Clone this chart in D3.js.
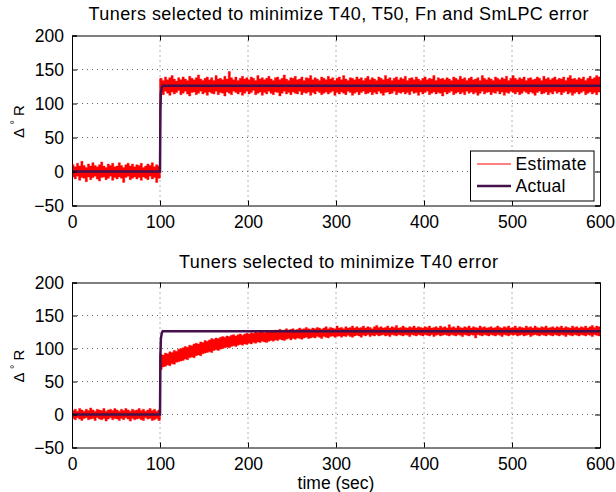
<!DOCTYPE html>
<html>
<head>
<meta charset="utf-8">
<script src="https://cdn.jsdelivr.net/npm/d3@7"></script>
<style>
  body { margin: 0; background: #fff; }
  text { font-family: "Liberation Sans", Arial, Helvetica, sans-serif; fill: #000; }
</style>
</head>
<body>
<svg id="chart" width="616" height="492"></svg>
<script>
// ---------------- data ----------------
const xTicks = [0, 100, 200, 300, 400, 500, 600];
const yTicks = [-50, 0, 50, 100, 150, 200];
const titles = ["Tuners selected to minimize T40, T50, Fn and SmLPC error",
                "Tuners selected to minimize T40 error"];
const legendLabels = ["Estimate", "Actual"];

// estimate: upper / lower envelope of the noisy trace, read every 2.5 s (0 .. 600)
const sampleTimes = d3.range(0, 600.1, 2.5);

const topUpper = [
  // 0 - 97.5
  10, 7, 12, 8, 15, 9, 6, 11, 8, 13,
  9, 7, 10, 14, 8, 6, 11, 9, 12, 7,
  8, 13, 9, 6, 10, 12, 8, 11, 7, 10,
  9, 12, 6, 8, 11, 9, 13, 7, 10, 8,
  // 100 - 600
  137,134,139,135,138,141,136,133,138,135,
  139,136,134,140,137,135,138,142,136,134,
  137,139,135,138,134,141,136,137,135,140,
  136,147,138,135,139,134,137,140,136,138,
  135,139,137,134,141,136,138,135,137,140,
  136,134,138,139,135,137,142,136,134,138,
  137,140,135,136,139,134,138,137,141,135,
  138,136,134,139,137,135,140,136,138,134,
  137,139,135,141,136,134,138,137,135,139,
  136,138,134,137,140,135,138,136,134,139,
  137,135,141,136,138,134,137,139,135,138,
  136,140,134,137,138,135,139,136,134,137,
  139,135,137,136,141,134,138,136,137,135,
  138,136,134,139,137,135,140,136,138,134,
  137,139,135,136,138,134,141,137,135,138,
  136,134,139,137,135,138,136,140,134,137,
  141,137,135,138,136,139,134,137,138,135,
  136,139,137,134,140,136,138,135,137,139,
  135,137,136,139,134,138,141,136,137,135,
  138,136,139,134,137,140,136,138,141,139,
  140];
const topLower = [
  -8, -11, -7, -13, -9, -10, -15, -8, -12, -9,
  -7, -11, -14, -9, -8, -12, -10, -7, -13, -9,
  -11, -8, -10, -16, -9, -7, -12, -10, -8, -11,
  -9, -13, -8, -10, -12, -7, -11, -9, -16, -10,
  116,113,118,115,112,117,114,116,119,113,
  115,118,114,111,116,117,113,115,118,114,
  116,112,117,115,114,118,113,116,115,111,
  117,115,113,118,116,114,117,112,115,118,
  114,116,119,113,115,117,112,116,114,118,
  115,113,117,116,111,115,118,114,116,113,
  117,115,114,118,113,116,115,117,112,116,
  114,118,116,113,115,117,114,116,118,112,
  116,114,117,115,113,118,116,112,115,117,
  113,116,118,114,115,117,113,116,114,118,
  115,112,116,117,114,115,118,113,116,115,
  117,114,116,113,118,115,116,112,117,114,
  116,118,113,115,117,114,116,115,111,117,
  114,116,118,113,115,117,114,116,113,118,
  115,117,114,116,112,115,118,114,116,117,
  113,116,115,118,114,117,112,116,115,118,
  116,114,117,113,115,118,116,114,117,115,
  112,116,118,114,115,117,113,116,114,118,
  115,117,113,116,118,114,116,112,115,117,
  114,116,118,113,115,117,114,116,113,117,
  116];

const botUpper = [
  6, 8, 5, 9, 7, 5, 8, 6, 10, 7,
  5, 8, 7, 6, 9, 5, 7, 8, 6, 9,
  7, 5, 8, 6, 9, 7, 5, 8, 6, 7,
  9, 6, 8, 5, 7, 9, 6, 8, 5, 7,
  91, 90, 93, 92, 95, 94, 97, 96, 99,100,
  101,103,102,105,104,107,108,107,110,109,
  112,111,113,115,114,116,115,117,118,117,
  119,118,120,121,119,121,122,120,122,123,
  122,124,123,125,124,126,125,124,127,126,
  127,126,128,127,129,127,128,130,128,129,
  130,128,129,131,129,130,132,130,129,131,
  130,132,131,129,131,133,130,132,131,130,
  134,131,132,130,133,131,132,134,131,133,
  131,132,134,131,133,132,130,133,135,132,
  133,131,132,134,131,133,132,135,131,132,
  134,132,131,133,132,134,131,133,132,131,
  133,132,134,131,132,133,131,134,132,133,
  131,136,132,133,131,134,132,131,133,132,
  134,131,133,132,131,134,132,133,131,132,
  133,131,132,134,132,131,133,132,134,131,
  132,134,131,133,132,131,134,132,133,131,
  134,132,131,133,132,134,131,132,133,131,
  133,132,134,131,133,132,131,134,132,133,
  131,133,132,134,131,133,135,132,134,133,
  133];
const botLower = [
  -6, -8, -5, -7, -9, -6, -5, -8, -7, -6,
  -9, -5, -7, -8, -6, -10, -7, -5, -8, -6,
  -7, -9, -6, -8, -5, -7, -10, -6, -8, -7,
  -6, -8, -9, -5, -7, -6, -9, -8, -6, -9,
  68, 72, 73, 75, 74, 77, 76, 79, 80, 81,
  82, 84, 83, 86, 87, 86, 89, 90, 89, 92,
  93, 94, 95, 94, 97, 98, 97, 99,100,101,
  102,101,103,104,103,105,106,105,107,106,
  108,107,109,108,110,109,111,110,109,111,
  112,111,113,112,114,113,112,114,115,113,
  115,114,116,115,114,116,117,115,116,117,
  116,118,117,115,118,117,116,118,119,117,
  118,119,117,119,118,120,118,117,119,120,
  119,117,120,119,121,118,120,119,121,119,
  120,121,119,120,118,121,120,119,121,120,
  119,121,120,118,121,120,119,121,120,119,
  121,120,119,121,118,120,121,119,120,121,
  120,119,121,120,119,121,120,118,121,120,
  119,121,120,116,121,120,119,121,120,119,
  121,120,119,121,120,118,121,120,119,121,
  120,121,119,120,121,119,120,121,118,120,
  121,120,119,121,120,119,121,120,119,121,
  120,119,121,120,118,121,120,119,121,120,
  119,121,120,119,121,120,118,121,120,119,
  120];

// actual (commanded) step
const actualTimes = [0, 100, 100.5, 101, 102, 103, 600];
const actualValues = [0, 0, 90, 115, 123, 126, 126];

// ---------------- drawing ----------------
const svg = d3.select("#chart");
svg.append("rect").attr("width", 616).attr("height", 492).attr("fill", "#fff");

const RED = "#ff0000", PURPLE = "#45104c";
const panels = [
  {top: 35.5, bottom: 205.5, upper: topUpper, lower: topLower,
   title: titles[0], titleY: 20, titleW: 500, legend: true, xlabel: false},
  {top: 282.5, bottom: 447.5, upper: botUpper, lower: botLower,
   title: titles[1], titleY: 268, titleW: 319, legend: false, xlabel: true}
];
const left = 72, right = 600;

panels.forEach((p, i) => {
  const x = d3.scaleLinear().domain([0, 600]).range([left, right]);
  const y = d3.scaleLinear().domain([-50, 200]).range([p.bottom, p.top]);
  const g = svg.append("g");
  const clipId = "clip" + i;
  svg.append("clipPath").attr("id", clipId).append("rect")
    .attr("x", left).attr("y", p.top).attr("width", right - left).attr("height", p.bottom - p.top);

  // grid
  const grid = g.append("g").attr("stroke", "#666").attr("stroke-width", 1).attr("stroke-dasharray", "1,4");
  xTicks.slice(1, -1).forEach(t => grid.append("line")
    .attr("x1", x(t)).attr("x2", x(t)).attr("y1", p.top).attr("y2", p.bottom));
  yTicks.slice(1, -1).forEach(t => grid.append("line")
    .attr("x1", left).attr("x2", right).attr("y1", y(t)).attr("y2", y(t)));

  // estimate
  const est = sampleTimes.map((t, k) => ({t, hi: p.upper[k], lo: p.lower[k]}));
  const area = d3.area().x(d => x(d.t)).y0(d => y(d.lo)).y1(d => y(d.hi)).curve(d3.curveStepAfter);
  g.append("path").datum(est).attr("clip-path", `url(#${clipId})`)
    .attr("d", area).attr("fill", RED).attr("stroke", RED).attr("stroke-width", 0.4);
  // vertical jump of the estimate at the step
  const k0 = sampleTimes.indexOf(100);
  g.append("line").attr("x1", x(100)).attr("x2", x(100))
    .attr("y1", y(p.lower[k0 - 1])).attr("y2", y(p.upper[k0]))
    .attr("stroke", RED).attr("stroke-width", 1.2);
  // actual
  const act = actualTimes.map((t, k) => ({t, v: actualValues[k]}));
  g.append("path").datum(act).attr("clip-path", `url(#${clipId})`)
    .attr("d", d3.line().x(d => x(d.t)).y(d => y(d.v)))
    .attr("fill", "none").attr("stroke", PURPLE).attr("stroke-width", 2.5);

  // axes (ticks inside, box)
  const axB = d3.axisBottom(x).tickValues(xTicks).tickSize(-5).tickPadding(10).tickFormat(d3.format("d"));
  const axT = d3.axisTop(x).tickValues(xTicks).tickSize(-5).tickFormat("");
  const axL = d3.axisLeft(y).tickValues(yTicks).tickSize(-5).tickPadding(8).tickFormat(d => d < 0 ? "\u2212" + Math.abs(d) : d);
  const axR = d3.axisRight(y).tickValues(yTicks).tickSize(-5).tickFormat("");
  [[axB, `translate(0,${p.bottom})`], [axT, `translate(0,${p.top})`],
   [axL, `translate(${left},0)`], [axR, `translate(${right},0)`]].forEach(([ax, tr]) => {
    const a = g.append("g").attr("transform", tr).call(ax);
    a.select(".domain").attr("stroke", "#000").attr("stroke-width", 1);
    a.selectAll(".tick line").attr("stroke", "#000");
    a.selectAll("text").attr("font-size", 17.5).attr("font-family", '"Liberation Sans", Arial, sans-serif').attr("fill", "#000");
  });

  // title
  svg.append("text").attr("x", 338.5).attr("y", p.titleY)
    .attr("text-anchor", "middle").attr("font-size", 18)
    .attr("textLength", p.titleW).attr("lengthAdjust", "spacing").text(p.title);

  // y label  Δ °R
  const cy = (p.top + p.bottom) / 2 + 1;
  const yl = svg.append("text").attr("transform", `translate(24,${cy}) rotate(-90)`)
    .attr("text-anchor", "middle").attr("font-size", 15);
  yl.append("tspan").text("\u0394 ");
  yl.append("tspan").attr("dy", -6).attr("font-size", 11).text("\u00B0");
  yl.append("tspan").attr("dy", 6).text(" R");

  if (p.xlabel) {
    svg.append("text").attr("x", (left + right) / 2).attr("y", 489)
      .attr("text-anchor", "middle").attr("font-size", 17.5).text("time (sec)");
  }

  if (p.legend) {
    const lg = svg.append("g");
    lg.append("rect").attr("x", 470.5).attr("y", 151).attr("width", 123.5).attr("height", 50)
      .attr("fill", "#fff").attr("stroke", "#000").attr("stroke-width", 1);
    const rows = [{label: legendLabels[0], color: RED, w: 1, yy: 164, len: 71},
                  {label: legendLabels[1], color: PURPLE, w: 2.5, yy: 186, len: 50}];
    rows.forEach(r => {
      lg.append("line").attr("x1", 477).attr("x2", 511).attr("y1", r.yy).attr("y2", r.yy)
        .attr("stroke", r.color).attr("stroke-width", r.w);
      lg.append("text").attr("x", 515.5).attr("y", r.yy).attr("dy", "0.35em")
        .attr("font-size", 17.5).attr("textLength", r.len).attr("lengthAdjust", "spacing")
        .text(r.label);
    });
  }
});
</script>
</body>
</html>
